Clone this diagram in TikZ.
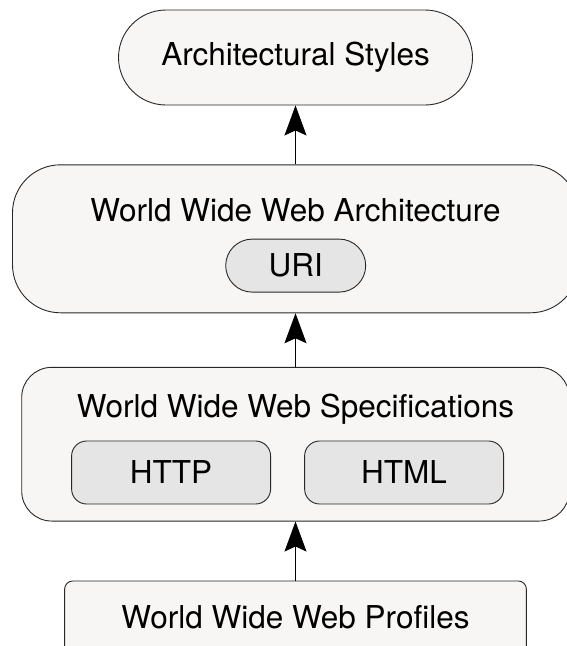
\documentclass[tikz,border=0pt]{standalone}
\usepackage{fontspec}
\setmainfont{TeX Gyre Heros}
\usetikzlibrary{arrows.meta}

\definecolor{outerfill}{RGB}{247,246,245}
\definecolor{innerfill}{RGB}{229,229,229}
\definecolor{edge}{RGB}{40,40,40}

\tikzset{
  layer/.style={draw=edge, line width=0.9pt, fill=outerfill, inner sep=0pt},
  part/.style={draw=edge, line width=0.9pt, fill=innerfill, inner sep=0pt},
  upar/.style={line width=1pt, -{Stealth[length=30pt, width=22pt, inset=5pt]}},
  lbl/.style={anchor=base, inner sep=0pt}
}

\begin{document}
\begin{tikzpicture}[x=1pt,y=1pt,yscale=-1,xscale=1,font=\fontsize{31.5}{38}\selectfont]
\useasboundingbox (0,0) rectangle (567,646);

%Shape: Architectural Styles
\node [layer, rounded corners=47.5pt, minimum width=354pt, minimum height=95pt] (styles) at (295.5,57.5) {Architectural Styles};

%Shape: World Wide Web Architecture
\node [layer, rounded corners=48pt, minimum width=566pt, minimum height=148pt] (arch) at (295.5,238.8) {};
% Text Node
\node [lbl] (archtitle) at (295.5,221.7) {World Wide Web Architecture};
%Shape: URI
\node [part, rounded corners=26.5pt, minimum width=140pt, minimum height=53pt] (uri) at (295.7,265.6) {URI};

%Shape: World Wide Web Specifications
\node [layer, rounded corners=30pt, minimum width=547.6pt, minimum height=153.7pt] (spec) at (295.5,444.2) {};
% Text Node
\node [lbl] (spectitle) at (295.5,417.3) {World Wide Web Specifications};
%Shape: HTTP
\node [part, rounded corners=15pt, minimum width=199pt, minimum height=63pt] (http) at (171.1,472.5) {HTTP};
%Shape: HTML
\node [part, rounded corners=15pt, minimum width=199pt, minimum height=63pt] (html) at (404.1,472.5) {HTML};

%Shape: World Wide Web Profiles
\node [layer, rounded corners=8pt, minimum width=461.7pt, minimum height=100pt] (profiles) at (295.5,631) {};
% Text Node
\node [lbl] (proftitle) at (295.5,628.3) {World Wide Web Profiles};

%Straight Lines
\draw [upar] (arch) -- (styles);
\draw [upar] (spec) -- (arch);
\draw [upar] (profiles) -- (spec);

\end{tikzpicture}
\end{document}
